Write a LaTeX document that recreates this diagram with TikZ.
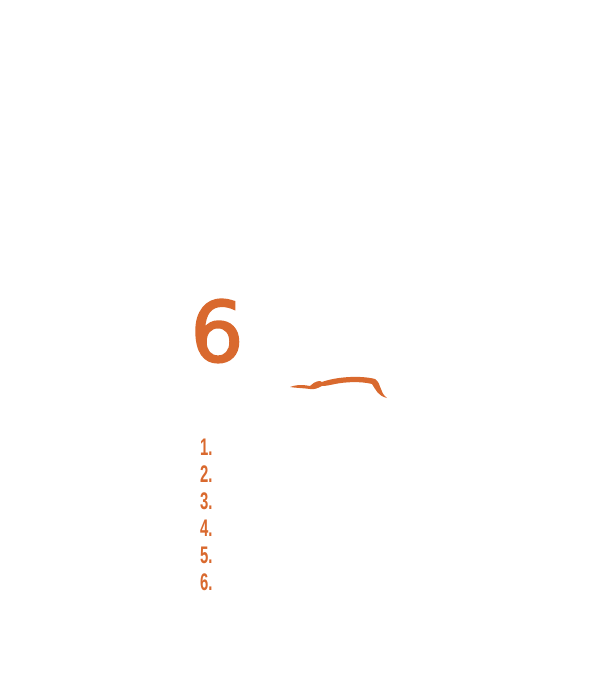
\documentclass[tikz,border=0pt]{standalone}
\usepackage{fontspec}
\setmainfont{Liberation Sans}
\newfontfamily\heavy{DejaVu Sans}[FakeBold=2]
\definecolor{org}{HTML}{D9692E}
\begin{document}
\begin{tikzpicture}[x=1pt,y=-1pt,
  num/.style={text=org,font=\fontsize{24}{24}\selectfont\bfseries,xscale=0.62,anchor=west,inner sep=0}]
\useasboundingbox (0,0) rectangle (605,680);
\node[text=org,font=\heavy\fontsize{84}{84}\selectfont,inner sep=0,anchor=center] (six) at (217,331) {6};
\fill[org] (290,387) .. controls (298,384) and (305,385) .. (310,386)
  .. controls (315,381) and (320,380) .. (322,382)
  .. controls (335,377) and (360,375) .. (375,379)
  .. controls (382,384) and (379,392) .. (387,398)
  .. controls (378,396) and (376,390) .. (372,384)
  .. controls (360,381) and (345,382) .. (335,384)
  .. controls (330,385) and (326,386) .. (322,386)
  .. controls (318,388) and (314,390) .. (310,389)
  .. controls (303,388) and (296,388) .. (290,387) -- cycle;
\foreach \i in {1,...,6} {
  \node[num] (n\i) at (200,{447+(\i-1)*27}) {\i.};
}
\end{tikzpicture}
\end{document}
